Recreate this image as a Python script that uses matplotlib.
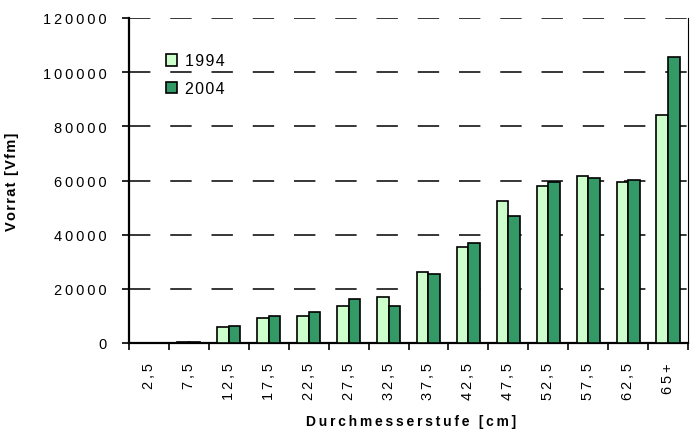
import numpy as np
import matplotlib
matplotlib.use('Agg')
import matplotlib.pyplot as plt
from matplotlib.ticker import FuncFormatter

stufen = ['2,5', '7,5', '12,5', '17,5', '22,5', '27,5', '32,5', '37,5',
          '42,5', '47,5', '52,5', '57,5', '62,5', '65+']
vorrat_1994 = [0, 500, 5900, 9200, 9800, 13500, 17100, 26300,
               35600, 52500, 58100, 61800, 59600, 84300]
vorrat_2004 = [0, 500, 6400, 10000, 11300, 16200, 13500, 25500,
               36800, 46800, 59600, 60900, 60200, 105700]

plt.rcParams['font.family'] = ['Liberation Sans', 'DejaVu Sans']

def sp(s, gap='\u2009'):
    # the original chart uses wide letter spacing
    return gap.join(s)

fig = plt.figure(figsize=(6.99, 4.35), dpi=100)
ax = fig.add_axes([129/699, 1-344/435, 559/699, 325/435])

x = np.arange(len(stufen))
w = 0.29
ax.bar(x - w/2, vorrat_1994, w, color='#CCFFCC', edgecolor='black', linewidth=1.2, label=sp('1994', '\u200a'), zorder=3)
ax.bar(x + w/2, vorrat_2004, w, color='#339966', edgecolor='black', linewidth=1.2, label=sp('2004', '\u200a'), zorder=3)

ax.set_xlim(-0.5, len(stufen) - 0.5)
ax.set_ylim(0, 120000)
ax.set_yticks(np.arange(0, 120001, 20000))
ax.yaxis.set_major_formatter(FuncFormatter(lambda v, p: sp('%d' % v)))
ax.tick_params(axis='y', direction='out', length=5, width=1.2, labelsize=10.5, pad=11)

# Ticks between the groups, labels at the centers
ax.set_xticks(np.arange(-0.5, len(stufen)), minor=False)
ax.set_xticklabels([])
ax.set_xticks(x, minor=True)
ax.set_xticklabels([sp(s) for s in stufen], minor=True, rotation=90, fontsize=10.5)
ax.tick_params(axis='x', which='major', direction='out', length=5, width=1.2)
ax.tick_params(axis='x', which='minor', length=0, pad=14)

for yv in range(20000, 120001, 20000):
    ax.axhline(yv, color='black', linewidth=1.1, dashes=(14, 13), zorder=1)

ax.spines['top'].set_visible(False)
ax.spines['left'].set_linewidth(1.6)
ax.spines['bottom'].set_linewidth(1.6)
ax.spines['right'].set_linewidth(0.8)

ax.set_ylabel(sp('Vorrat [Vfm]', '\u200a'), fontsize=10.5, fontweight='bold')
ax.yaxis.set_label_coords(-0.197, 0.5)
ax.set_xlabel(sp('Durchmesserstufe [cm]'), fontsize=10, fontweight='bold')
ax.xaxis.set_label_coords(0.505, -0.218)

leg = ax.legend(loc='upper left', bbox_to_anchor=(0.04, 0.935), frameon=False,
                fontsize=11.5, handlelength=0.72, handleheight=0.72, handletextpad=0.5,
                labelspacing=0.8)

fig.savefig('out.png', dpi=100)
